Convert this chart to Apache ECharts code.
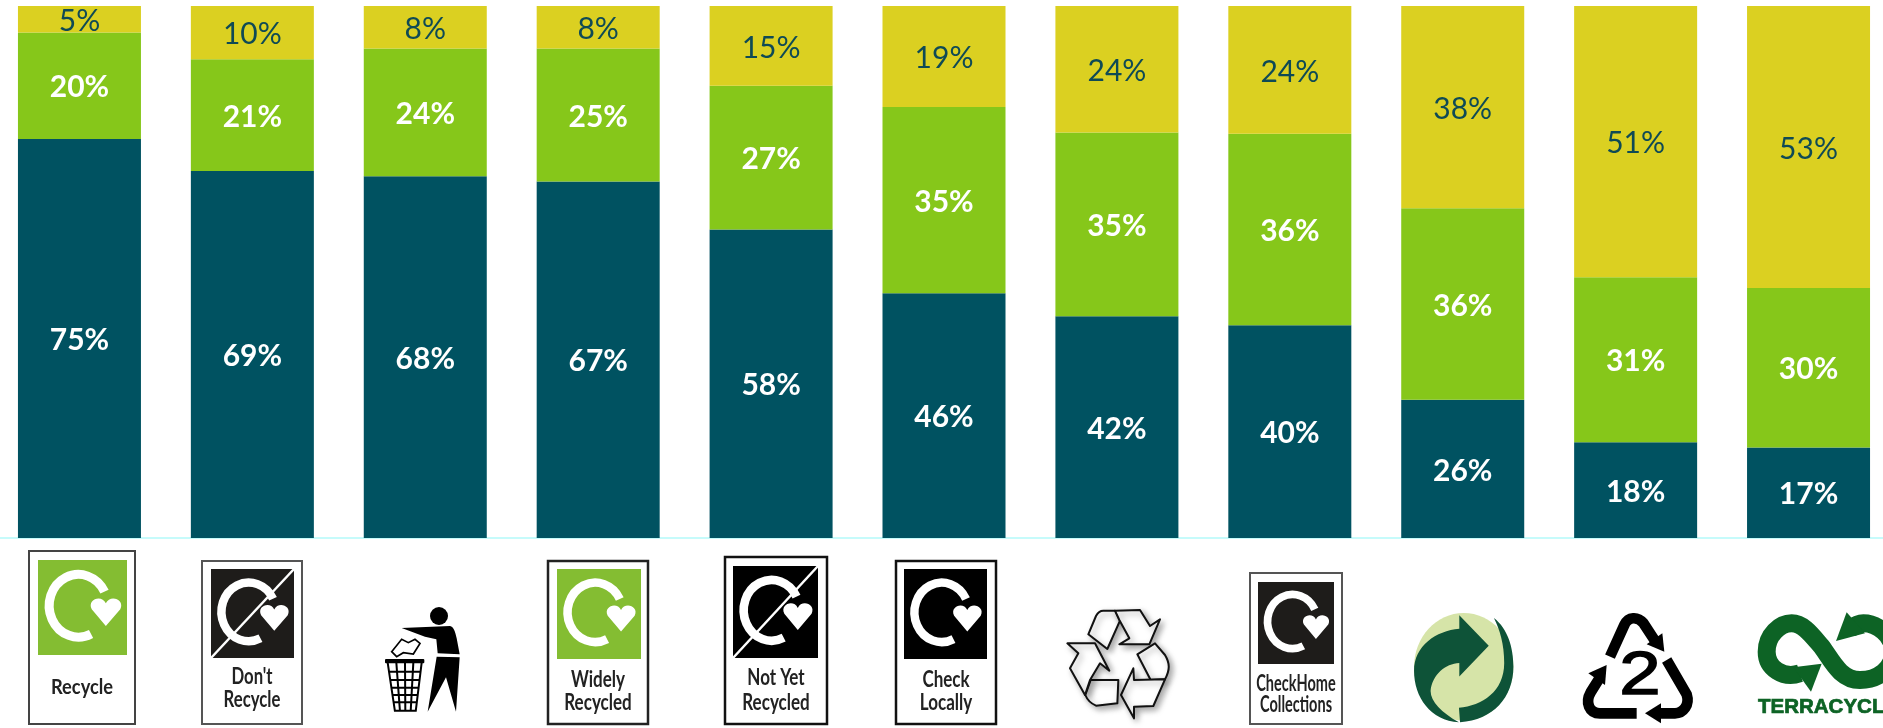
<!DOCTYPE html>
<html><head><meta charset="utf-8">
<style>html,body{margin:0;padding:0;background:#fff}#c{width:1883px;height:728px}</style>
<script src="https://cdn.jsdelivr.net/npm/echarts@6/dist/echarts.min.js"></script>
</head><body><div id="c"></div>
<script>
const categories = ['Recycle',"Don't Recycle",'Tidyman','Widely Recycled','Not Yet Recycled','Check Locally','Mobius Loop','Check Home Collections','Green Dot','HDPE 2','TerraCycle'];
const bottomShare = [75,69,68,67,58,46,41.7,40,26,18,17];
const middleShare = [20,21,24,25,27,35,34.5,36,36,31,30];
const topShare    = [5,10,8,8,15,19,23.8,24,38,51,53];

const SW_ARC='M158 222 A87 94 0 1 1 198 95';
const SW_HEART='M202 198 L160 148 C145 118 190 102 202 130 C214 102 260 118 245 148 Z';

function labelIcon(b,r,color,slash,lines,fs,sx,bc,bw){
  const ch=[];
  ch.push({type:'rect',shape:{x:b[0],y:b[1],width:b[2]-b[0],height:b[3]-b[1]},style:{fill:'#fff',stroke:bc,lineWidth:bw}});
  ch.push({type:'rect',shape:{x:r[0],y:r[1],width:r[2]-r[0],height:r[3]-r[1]},style:{fill:color}});
  const s=[(r[2]-r[0])/265,(r[3]-r[1])/285];
  ch.push({type:'group',x:r[0],y:r[1],scaleX:s[0],scaleY:s[1],children:[
    {type:'path',shape:{pathData:SW_ARC},style:{fill:'none',stroke:'#fff',lineWidth:27}},
    {type:'path',shape:{pathData:SW_HEART},style:{fill:'#fff'}}
  ]});
  if(slash) ch.push({type:'line',shape:{x1:r[0],y1:r[3],x2:r[2],y2:r[1]},style:{stroke:'#fff',lineWidth:2.5}});
  lines.forEach(l=>ch.push({type:'text',x:(b[0]+b[2])/2,y:l[1],scaleX:sx,style:{text:l[0],font:'bold '+fs+'px Lato',fill:'#222',textAlign:'center',textVerticalAlign:'middle'}}));
  return {type:'group',children:ch};
}
function traced(ox,oy,children,sx,sy){return {type:'group',x:ox,y:oy,scaleX:sx||1/3,scaleY:sy||1/3,children:children};}
const P=(d,style)=>({type:'path',shape:{pathData:d},style:style});

const K={fill:'#000'};
const binV=[[38,60],[64,75],[90,91],[115,107],[140,122]].map(a=>'M'+a[0]+' 188 L'+a[1]+' 335').join(' ');
const binH=[[215,43],[240,47],[263,50],[285,53],[307,56]].map(a=>'M'+a[1]+' '+a[0]+' L'+(181-a[1])+' '+a[0]).join(' ');
const tidyman=traced(375,600,[
  {type:'circle',shape:{cx:192,cy:48,r:27},style:K},
  P('M80 84 L225 78 C236 80 241 95 245 115 L254 163 L188 160 L184 118 L150 110 Z',K),
  P('M185 170 L254 172 L243 335 L213 232 L158 335 Z',K),
  P('M50 155 L80 118 L100 128 L120 118 L135 130 L115 162 L85 158 L65 170 Z',{fill:'#fff',stroke:'#000',lineWidth:5}),
  {type:'rect',shape:{x:30,y:177,width:118,height:13,r:3},style:K},
  P(binV+' '+binH+' M60 332 L122 332',{fill:'none',stroke:'#000',lineWidth:6})
]);

const ol={fill:'#fff',stroke:'#111',lineWidth:6,shadowBlur:6,shadowColor:'rgba(0,0,0,.35)',shadowOffsetX:3,shadowOffsetY:3,lineJoin:'round'};
const mobius=traced(1060,600,[
  P('M165 32 L130 32 C120 32 112 40 108 48 L85 103 L142 147 L180 62 Z',ol),
  P('M165 32 L240 30 L270 78 L300 58 L268 133 L178 133 L208 115 L178 60 Z',ol),
  P('M232 163 L285 130 L315 165 C330 190 330 210 315 238 L272 240 Z',ol),
  P('M315 238 L222 240 L220 205 L183 285 L222 355 L222 320 L280 318 Z',ol),
  P('M92 240 L175 240 L172 310 L108 317 C92 310 80 295 76 285 Z',ol),
  P('M22 130 L105 130 L148 212 L120 190 L90 240 L75 285 L30 205 L55 160 Z',ol)
]);

const GD='#0E5338';
const greenDot=traced(1393.8,598.1,[
  {type:'ellipse',shape:{cx:190,cy:180,rx:135,ry:141},style:{fill:'#D6E4A8'}},
  P('M178 45 L258 125 L178 205 L178 170 C140 172 105 200 100 243 C100 270 130 300 177 325 C100 320 55 260 55 190 C55 125 115 85 178 80 Z',{fill:GD}),
  P('M272 52 C310 80 325 130 325 180 C325 260 270 320 180 325 L177 287 C240 282 300 245 300 170 C300 120 288 82 272 52 Z',{fill:GD})
],1.104/3,1.146/3);

const hdpe=traced(1575,605,[
  P('M105 155 L148 60 C160 34 188 34 205 54 L245 115',{fill:'none',stroke:'#000',lineWidth:32}),
  P('M262 85 L268 140 L215 118 Z',K),
  P('M185 325 L75 325 C42 325 30 292 47 262 L72 222',{fill:'none',stroke:'#000',lineWidth:32}),
  P('M40 205 L95 180 L90 240 Z',K),
  P('M275 165 L335 268 C345 300 325 325 300 325 L250 325',{fill:'none',stroke:'#000',lineWidth:32}),
  P('M210 325 L258 295 L258 355 Z',K)
]);
const two={type:'text',x:1640,y:677,scaleX:1.2,style:{text:'2',font:'62px "Liberation Sans"',fill:'#000',stroke:'#000',lineWidth:1.5,textAlign:'center',textVerticalAlign:'middle'}};

const TC='#0D6325';
const terra=traced(1750,605,[
  P('M150 205 C100 222 50 190 50 140 C50 90 90 55 125 55 C160 55 185 90 215 125 C245 165 270 225 330 225 C385 225 430 190 430 140 C430 90 380 55 340 55 C325 55 315 60 300 72',{fill:'none',stroke:TC,lineWidth:54}),
  P('M130 187 L215 176 L183 260 Z',{fill:TC}),
  P('M258 108 L290 22 L345 85 Z',{fill:TC})
]);
const terraText={type:'text',x:1758,y:707,style:{text:'TERRACYCLE',font:'900 20.5px "Liberation Sans"',fill:TC,stroke:TC,lineWidth:0.7,textAlign:'left',textVerticalAlign:'middle'}};

const icons=[
  labelIcon([29,551,135,724],[38,560,127,655],'#84BD32',false,[['Recycle',687]],21,0.87,'#444',2),
  labelIcon([202,561,302,724],[211,569,294,658],'#1e1c1a',true,[["Don't",677],['Recycle',700]],22,0.76,'#555',2),
  tidyman,
  labelIcon([548,561,648,724],[557,569,641,659],'#84BD32',false,[['Widely',680],['Recycled',703]],23,0.74,'#222',2.5),
  labelIcon([725,557,827,724],[733,566,818,658],'#000',true,[['Not Yet',678],['Recycled',703]],23,0.74,'#111',2.5),
  labelIcon([896,561,996,724],[904,569,987,659],'#000',false,[['Check',680],['Locally',703]],23,0.74,'#111',2.5),
  mobius,
  labelIcon([1250,573,1342,724],[1258,582,1334,664],'#1e1c1a',false,[['CheckHome',684],['Collections',705]],22,0.66,'#555',2),
  greenDot,hdpe,two,terra,terraText
];

const lab=(color,weight)=>({show:true,position:'inside',offset:[0,2],color:color,fontFamily:'Lato',fontSize:30,fontWeight:weight,
  formatter:p=>Math.round(p.value)+'%'});
const mk=(name,data,color,label)=>({name:name,type:'bar',stack:'share',barWidth:123,data:data,itemStyle:{color:color},label:label,emphasis:{disabled:true},silent:true});

const chart=echarts.init(document.getElementById('c'),null,{renderer:'canvas'});
chart.setOption({
  animation:false,
  grid:{left:-7,top:6,width:1902,height:532,containLabel:false,outerBoundsMode:'none'},
  xAxis:{type:'category',data:categories,axisLine:{show:true,lineStyle:{color:'#c6fbfb',width:2}},axisTick:{show:false},axisLabel:{show:false},splitLine:{show:false}},
  yAxis:{type:'value',min:0,max:100,show:false,splitLine:{show:false}},
  series:[
    mk('Lower share',bottomShare,'#005261',lab('#fff','bold')),
    mk('Middle share',middleShare,'#86C71A',lab('#fff','bold')),
    mk('Upper share',topShare,'#DBD021',lab('#0f4a55','normal')),
    {name:'Labels',type:'custom',coordinateSystem:'none',data:[0],silent:true,z:5,
     renderItem:()=>({type:'group',children:icons})}
  ]
});
</script></body></html>
